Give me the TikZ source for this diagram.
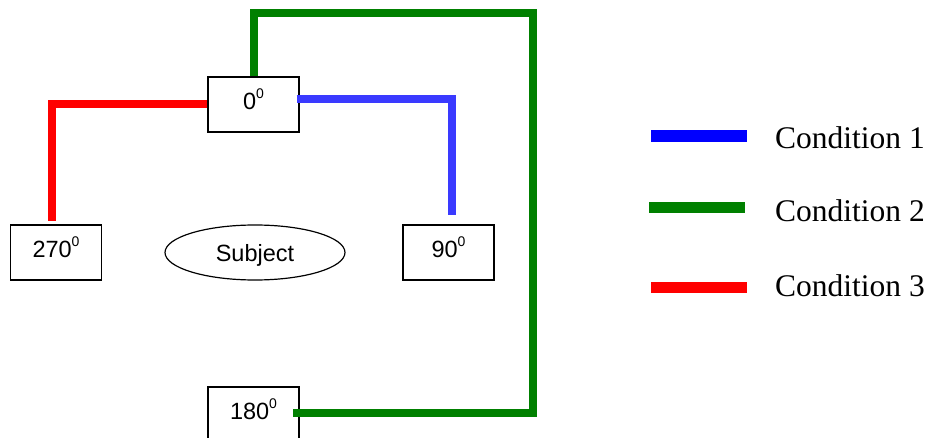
\documentclass[tikz,border=0pt]{standalone}
\usepackage{fontspec}
\setmainfont{Liberation Serif}
\newfontfamily\boxfont{Liberation Sans}
\usetikzlibrary{shapes.geometric,calc}
\newcommand\degsup{\raisebox{10.5pt}{\fontsize{14}{14}\selectfont 0}}
\definecolor{diagblue}{RGB}{58,58,255}
\definecolor{condblue}{RGB}{0,0,255}
\definecolor{condgreen}{RGB}{0,128,0}
\definecolor{condred}{RGB}{255,0,0}
\begin{document}
\begin{tikzpicture}[x=1pt,y=-1pt,
  anglebox/.style={draw, line width=1.2pt, rectangle, minimum width=91pt, minimum height=55pt,
    inner sep=0pt, font=\boxfont\fontsize{23.5}{28}\selectfont, text height=20pt, text depth=10pt},
  subj/.style={draw, line width=1.2pt, ellipse, minimum width=180pt, minimum height=55pt,
    inner sep=0pt, font=\boxfont\fontsize{23.5}{28}\selectfont, text height=20pt, text depth=1pt},
  cond/.style={line width=8pt, line join=miter},
  legline/.style={line width=11.5pt},
  legtext/.style={anchor=base west, inner sep=0pt, font=\fontsize{31.5}{36}\selectfont}]
\useasboundingbox (0,0) rectangle (930,438);
\fill[white] (0,0) rectangle (930,438);
% nodes
\node[anglebox] (n0) at (253.5,104.5) {0\degsup};
\node[anglebox] (n270) at (56,252.5) {270\degsup};
\node[subj] (s) at (255,252.5) {Subject};
\node[anglebox] (n90) at (448.5,252.5) {90\degsup};
\node[anglebox] (n180) at (253.5,414.5) {180\degsup};
% corner / end coordinates
\coordinate (g1) at (533,13.5);
\coordinate (g2) at (533,413);
\coordinate (b2) at (452,215);
\coordinate (r2) at (52,221);
% connectors
\draw[cond, condgreen] (n0.north) |- (g1) -- (g2) -- ($(g2 -| n180.east)+(-7,0)$);
\draw[cond, diagblue] ($(n0.east)+(-3,-5.5)$) -| (b2);
\draw[cond, condred] (n0.west) -| (r2);
% legend
\coordinate (l1a) at (651,136); \coordinate (l1b) at (747,136);
\coordinate (l2a) at (649,207.5); \coordinate (l2b) at (745,207.5);
\coordinate (l3a) at (651,287.5); \coordinate (l3b) at (747,287.5);
\draw[legline, condblue] (l1a) -- (l1b);
\draw[legline, condgreen] (l2a) -- (l2b);
\draw[legline, condred] (l3a) -- (l3b);
\node[legtext] (t1) at (775,149) {Condition 1};
\node[legtext] (t2) at (775,221.5) {Condition 2};
\node[legtext] (t3) at (775,297) {Condition 3};
\end{tikzpicture}
\end{document}
